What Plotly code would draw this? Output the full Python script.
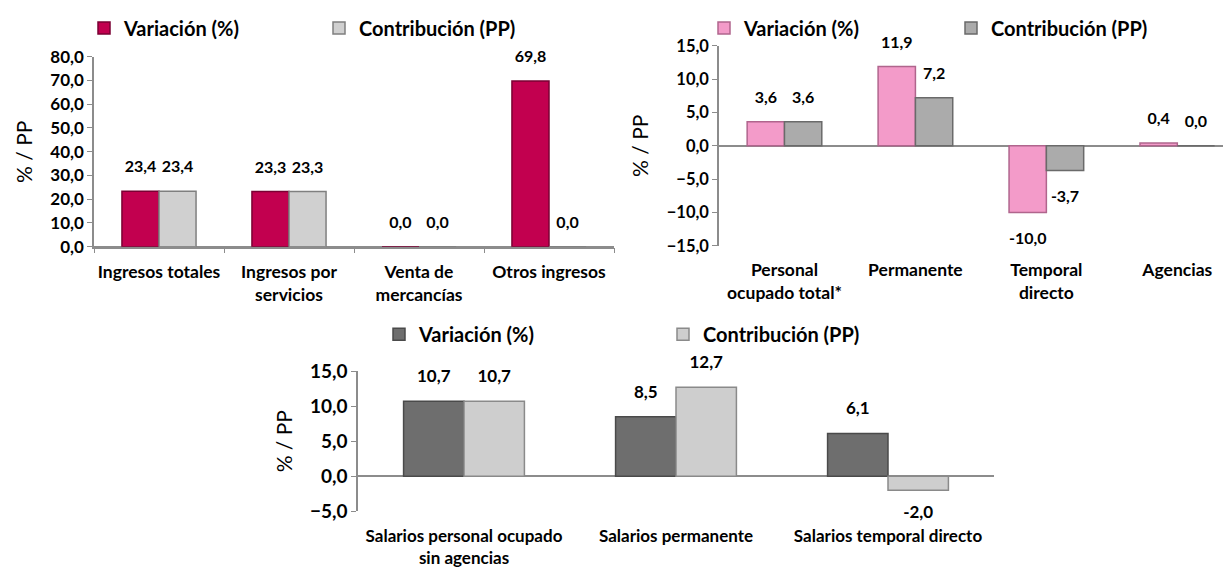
import plotly.graph_objects as go

# ---- data ----
cat_ingresos = ["Ingresos totales", "Ingresos por<br>servicios", "Venta de<br>mercancías", "Otros ingresos"]
var_ingresos = [23.4, 23.3, 0.0, 69.8]
con_ingresos = [23.4, 23.3, 0.0, 0.0]

cat_personal = ["Personal<br>ocupado total*", "Permanente", "Temporal<br>directo", "Agencias"]
var_personal = [3.6, 11.9, -10.0, 0.4]
con_personal = [3.6, 7.2, -3.7, 0.0]

cat_salarios = ["Salarios personal ocupado<br>sin agencias", "Salarios permanente", "Salarios temporal directo"]
var_salarios = [10.7, 8.5, 6.1]
con_salarios = [10.7, 12.7, -2.0]

name_var = "Variación (%)"
name_con = "Contribución (PP)"

# page body has an 8px margin; figure fills the rest of the 1231x567 window
OFF = 8
W, H = 1231 - OFF, 567 - OFF
FONT = "Lato"
AX = "#8c8c8c"


def px_x(p):
    return (p - OFF) / W


def px_y(p):
    return 1 - (p - OFF) / H


fig = go.Figure()

panels = [
    dict(x="x", y="y", cats=cat_ingresos, v=var_ingresos, c=con_ingresos, lg="legend", lsize=16, neg=30,
         vcol="#C2004F", vline="#7a0033", ccol="#D0D0D0", cline="#7f7f7f"),
    dict(x="x2", y="y2", cats=cat_personal, v=var_personal, c=con_personal, lg="legend2", lsize=16, neg=30,
         vcol="#F39BC9", vline="#b0658d", ccol="#ABABAB", cline="#6a6a6a"),
    dict(x="x3", y="y3", cats=cat_salarios, v=var_salarios, c=con_salarios, lg="legend3", lsize=17, neg=22,
         vcol="#6E6E6E", vline="#4a4a4a", ccol="#CECECE", cline="#8a8a8a"),
]

for p in panels:
    for name, vals, col, line in [(name_var, p["v"], p["vcol"], p["vline"]),
                                  (name_con, p["c"], p["ccol"], p["cline"])]:
        fig.add_trace(go.Bar(
            x=p["cats"], y=vals, name=name, xaxis=p["x"], yaxis=p["y"], legend=p["lg"],
            marker=dict(color=col, line=dict(color=line, width=1.5)),
            hovertemplate="%{x}: %{y:.1f}<extra>" + name + "</extra>",
        ))
    # value labels, grouped like the bars
    for name, vals in [(name_var, p["v"]), (name_con, p["c"])]:
        fig.add_trace(go.Scatter(
            x=p["cats"], y=vals, xaxis=p["x"], yaxis=p["y"], mode="markers+text",
            text=[f"{v:.1f}".replace(".", ",") for v in vals],
            textposition=["top center" if v >= 0 else "bottom center" for v in vals],
            marker=dict(size=[22 if v >= 0 else p["neg"] for v in vals], opacity=0),
            textfont=dict(family=FONT, size=p["lsize"], color="black", weight="bold"),
            showlegend=False, hoverinfo="skip", cliponaxis=False,
        ))

titlefont = dict(family=FONT, size=21, color="black")


def yaxis(size, **kw):
    d = dict(showgrid=False, showline=True, linecolor=AX, linewidth=1.5, ticks="outside",
             ticklen=5, tickcolor=AX, tickformat=".1f", automargin=False,
             tickfont=dict(family=FONT, size=size, color="black", weight="bold"),
             title=dict(text="% / PP", font=titlefont, standoff=12),
             zeroline=True, zerolinecolor=AX, zerolinewidth=1.5)
    d.update(kw)
    return d


def xaxis(size, **kw):
    d = dict(showgrid=False, automargin=False, tickangle=0,
             tickfont=dict(family=FONT, size=size, color="black", weight="bold"))
    d.update(kw)
    return d


fig.update_layout(
    width=W, height=H, margin=dict(l=0, r=0, t=0, b=0),
    paper_bgcolor="white", plot_bgcolor="white",
    separators=",.",
    barmode="group", bargap=0.43, bargroupgap=0.0,
    scattermode="group", scattergap=0.43,
    showlegend=True,
    font=dict(family=FONT),
    xaxis=xaxis(17.5, domain=[px_x(94), px_x(614)], anchor="y", showline=True, linecolor=AX,
                linewidth=1.5, ticks="outside", tickson="boundaries", ticklen=5, tickcolor=AX,
                ticklabelstandoff=9),
    yaxis=yaxis(17, domain=[px_y(245), px_y(54)], anchor="x", range=[0, 80], dtick=10),
    xaxis2=xaxis(17.5, domain=[px_x(719), 1.0], anchor="y2", showline=False, ticks="",
                 range=[-0.5, 3.41], ticklabelstandoff=12),
    yaxis2=yaxis(16.5, domain=[px_y(244), px_y(43)], anchor="x2", range=[-15, 15], dtick=5),
    xaxis3=xaxis(17, domain=[px_x(358), px_x(994)], anchor="y3", showline=False, ticks="",
                 ticklabelstandoff=13),
    yaxis3=yaxis(19, domain=[px_y(511), px_y(370)], anchor="x3", range=[-5, 15], dtick=5),
)

legend_common = dict(orientation="h", xanchor="left", yanchor="middle", bgcolor="rgba(0,0,0,0)",
                     font=dict(family=FONT, size=20, color="black", weight="bold"),
                     entrywidthmode="pixels", itemclick=False, itemdoubleclick=False)
fig.update_layout(
    legend=dict(x=px_x(84), y=px_y(25), entrywidth=190, **legend_common),
    legend2=dict(x=px_x(704), y=px_y(25), entrywidth=202, **legend_common),
    legend3=dict(x=px_x(379), y=px_y(333), entrywidth=239, **legend_common),
)

fig.write_html("out.html")
